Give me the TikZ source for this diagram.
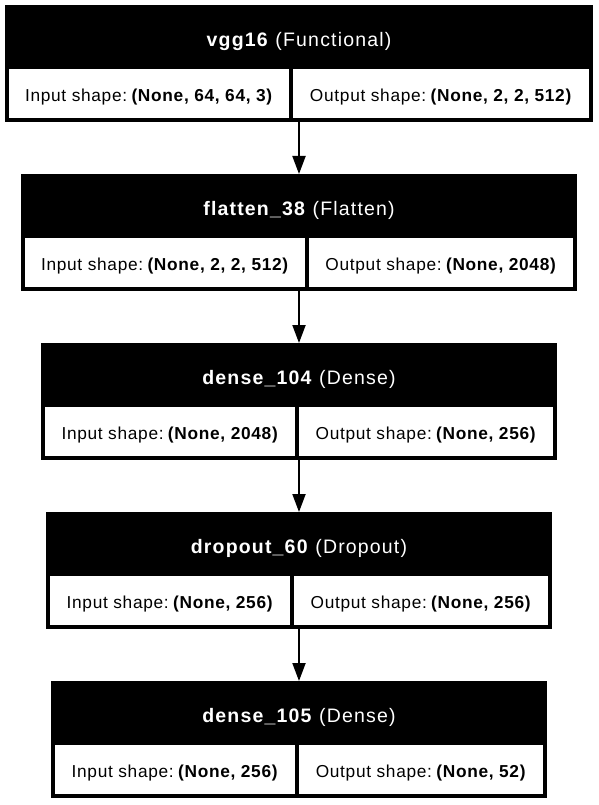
\documentclass[tikz,border=0pt]{standalone}
\usepackage{fontspec}
\setmainfont{Liberation Sans}
\usetikzlibrary{arrows.meta}

\newcommand{\shapetext}[2]{#1:\kern-3pt{} \textbf{#2}}

\begin{document}
\begin{tikzpicture}[x=1pt,y=-1pt]
    \tikzset{layer/.style = {shape=rectangle,fill=black,inner sep=0pt,outer sep=0pt,minimum height=117pt,anchor=north west}}
    \tikzset{title/.style = {text=white,anchor=base,inner sep=0pt,font=\fontsize{19.5}{20}\selectfont\addfontfeature{LetterSpace=6}}}
    \tikzset{cell/.style = {shape=rectangle,fill=white,inner sep=0pt,outer sep=0pt,minimum height=49pt,text height=15.4pt,text depth=0pt,anchor=north west,font=\fontsize{17.3}{18}\selectfont\addfontfeature{LetterSpace=4}}}
    \tikzset{edge/.style = {-{Triangle[length=18pt,width=13pt]},line width=2pt}}
    \useasboundingbox (0,0) rectangle (598,805);
    % vgg16
    \node[layer, minimum width=588pt] (vgg) at (5,5) {};
    \node[title] (vggtitle) at (299,46.7) {\textbf{vgg16} (Functional)};
    \node[cell, minimum width=280pt] (vggin) at (9,69) {\shapetext{Input shape}{(None, 64, 64, 3)}};
    \node[cell, minimum width=296pt] (vggout) at (293,69) {\shapetext{Output shape}{(None, 2, 2, 512)}};
    % flatten
    \node[layer, minimum width=556pt] (flat) at (21,174) {};
    \node[title] (flattitle) at (299,215.7) {\textbf{flatten\_38} (Flatten)};
    \node[cell, minimum width=280pt] (flatin) at (25,238) {\shapetext{Input shape}{(None, 2, 2, 512)}};
    \node[cell, minimum width=264pt] (flatout) at (309,238) {\shapetext{Output shape}{(None, 2048)}};
    % dense 104
    \node[layer, minimum width=516pt] (densea) at (41,343) {};
    \node[title] (denseatitle) at (299,384.7) {\textbf{dense\_104} (Dense)};
    \node[cell, minimum width=250pt] (denseain) at (45,407) {\shapetext{Input shape}{(None, 2048)}};
    \node[cell, minimum width=254pt] (denseaout) at (299,407) {\shapetext{Output shape}{(None, 256)}};
    % dropout
    \node[layer, minimum width=506pt] (drop) at (46,512) {};
    \node[title] (droptitle) at (299,553.7) {\textbf{dropout\_60} (Dropout)};
    \node[cell, minimum width=240pt] (dropin) at (50,576) {\shapetext{Input shape}{(None, 256)}};
    \node[cell, minimum width=254pt] (dropout) at (294,576) {\shapetext{Output shape}{(None, 256)}};
    % dense 105
    \node[layer, minimum width=496pt] (denseb) at (51,681) {};
    \node[title] (densebtitle) at (299,722.7) {\textbf{dense\_105} (Dense)};
    \node[cell, minimum width=240pt] (densebin) at (55,745) {\shapetext{Input shape}{(None, 256)}};
    \node[cell, minimum width=244pt] (densebout) at (299,745) {\shapetext{Output shape}{(None, 52)}};
    \draw[edge] (vgg) -- (flat);
    \draw[edge] (flat) -- (densea);
    \draw[edge] (densea) -- (drop);
    \draw[edge] (drop) -- (denseb);
\end{tikzpicture}
\end{document}
